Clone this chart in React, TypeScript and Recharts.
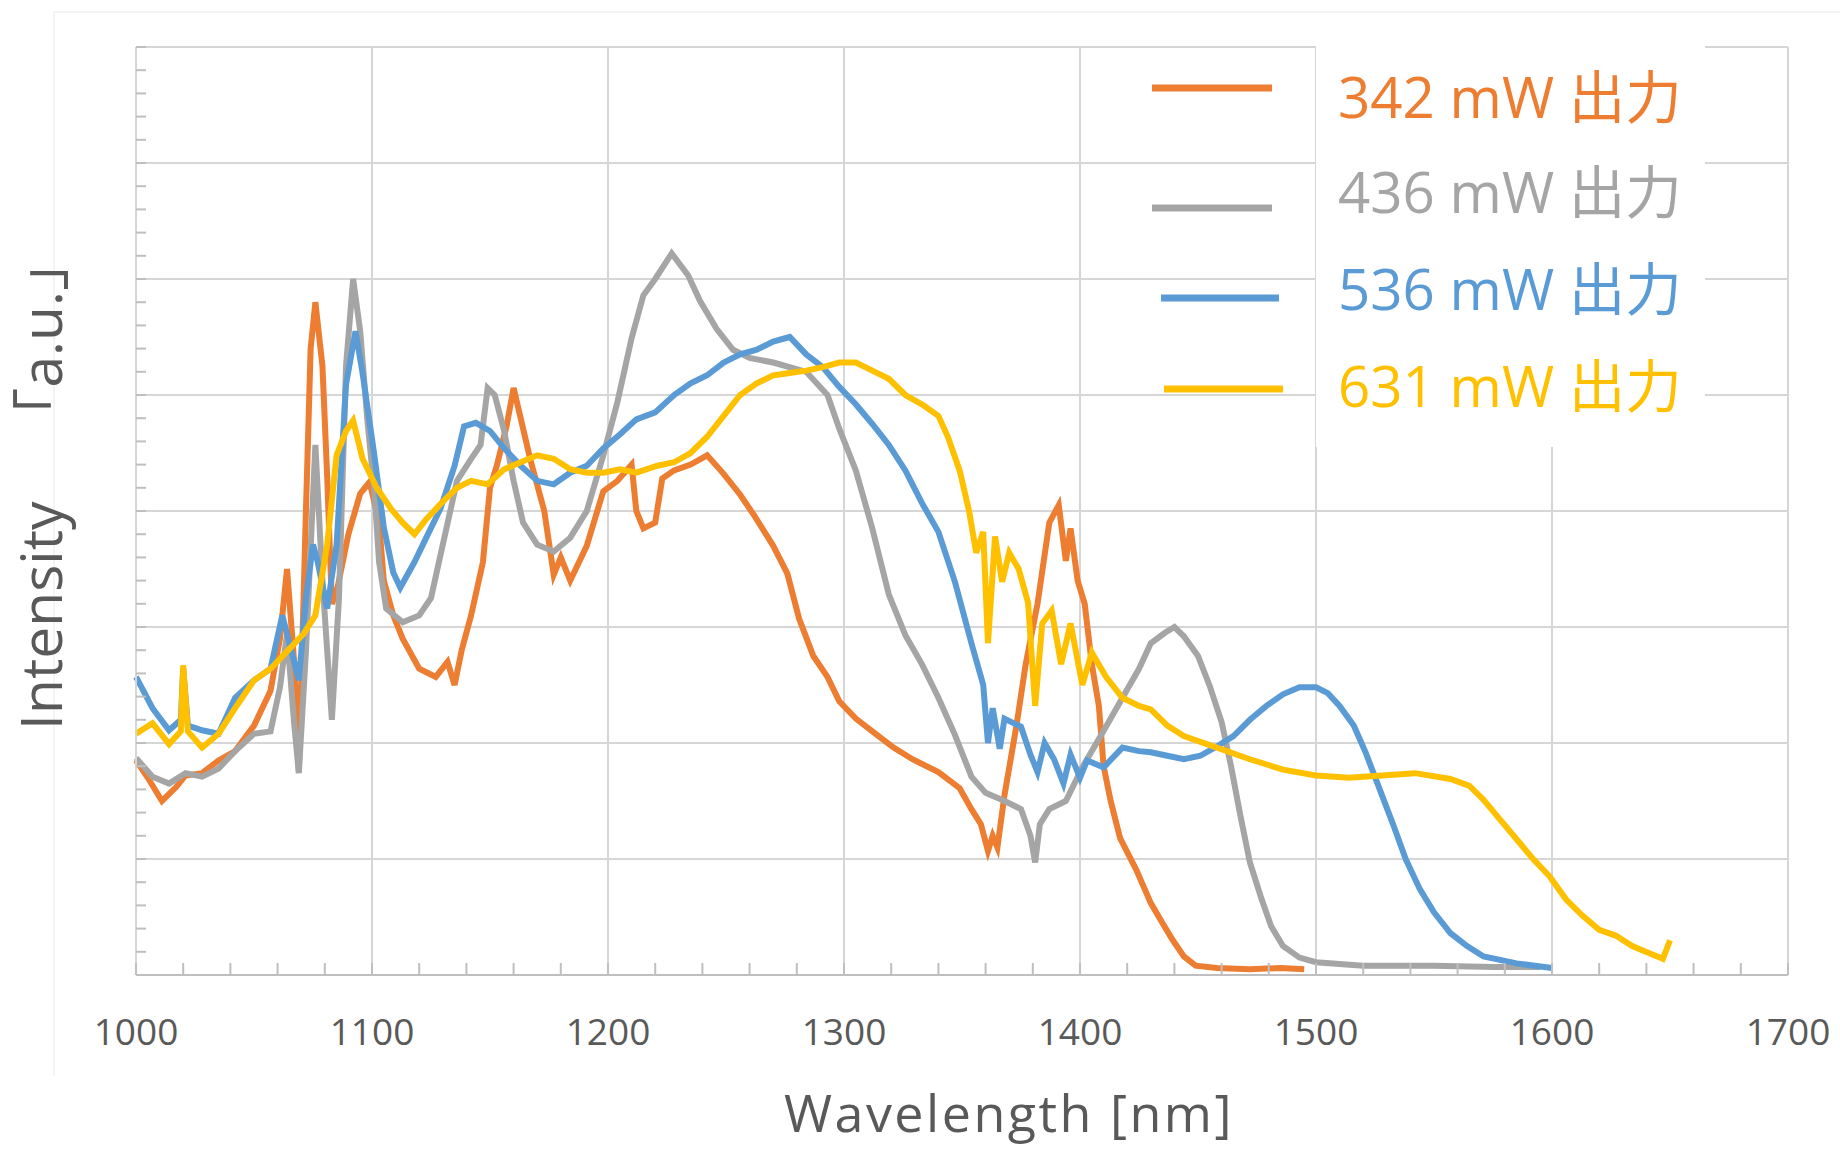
import { LineChart, Line, XAxis, YAxis, CartesianGrid, Legend } from 'recharts';

// wavelength [nm] / intensity [a.u.]
const wl342 = [1000, 1005, 1011, 1017, 1021, 1028, 1035, 1042, 1050, 1057, 1061, 1064, 1067, 1069, 1072, 1074, 1076, 1079, 1081, 1083, 1085, 1090, 1095, 1099, 1103, 1105, 1109, 1113, 1120, 1127, 1132, 1135, 1138, 1142, 1147, 1150, 1153, 1157, 1160, 1163, 1167, 1173, 1177, 1180, 1184, 1191, 1198, 1204, 1210, 1212, 1215, 1220, 1223, 1228, 1235, 1242, 1249, 1256, 1262, 1270, 1276, 1281, 1287, 1293, 1298, 1305, 1312, 1321, 1329, 1340, 1349, 1354, 1358, 1361, 1363, 1365, 1368, 1373, 1377, 1382, 1387, 1391, 1394, 1396, 1399, 1402, 1405, 1408, 1410, 1413, 1417, 1424, 1430, 1434, 1439, 1444, 1449, 1458, 1472, 1485, 1495];
const int342 = [1.85, 1.7, 1.5, 1.62, 1.72, 1.74, 1.85, 1.93, 2.15, 2.45, 2.9, 3.5, 2.7, 1.75, 4.0, 5.4, 5.8, 5.25, 4.3, 3.2, 3.3, 3.8, 4.15, 4.25, 3.9, 3.4, 3.1, 2.9, 2.64, 2.57, 2.7, 2.5, 2.8, 3.1, 3.56, 4.2, 4.4, 4.73, 5.06, 4.8, 4.45, 4.0, 3.45, 3.6, 3.4, 3.7, 4.17, 4.26, 4.4, 4.0, 3.85, 3.9, 4.28, 4.35, 4.4, 4.48, 4.32, 4.14, 3.96, 3.7, 3.46, 3.07, 2.75, 2.57, 2.36, 2.21, 2.1, 1.96, 1.86, 1.75, 1.61, 1.43, 1.3, 1.07, 1.2, 1.1, 1.55, 2.14, 2.68, 3.2, 3.9, 4.05, 3.57, 3.85, 3.4, 3.2, 2.68, 2.32, 1.8, 1.5, 1.18, 0.9, 0.62, 0.48, 0.31, 0.16, 0.08, 0.06, 0.05, 0.06, 0.05];

const wl436 = [1000, 1007, 1014, 1021, 1028, 1035, 1042, 1050, 1057, 1061, 1064, 1067, 1069, 1072, 1076, 1079, 1083, 1086, 1089, 1092, 1095, 1098, 1101, 1103, 1106, 1113, 1120, 1125, 1130, 1136, 1142, 1146, 1149, 1152, 1156, 1160, 1164, 1170, 1177, 1184, 1191, 1198, 1204, 1210, 1215, 1220, 1227, 1234, 1239, 1246, 1253, 1260, 1270, 1284, 1293, 1298, 1305, 1312, 1319, 1326, 1333, 1340, 1347, 1354, 1360, 1368, 1375, 1379, 1381, 1383, 1387, 1394, 1401, 1411, 1418, 1425, 1430, 1436, 1440, 1444, 1450, 1455, 1460, 1464, 1468, 1472, 1477, 1481, 1486, 1493, 1500, 1520, 1550, 1575, 1595];
const int436 = [1.87, 1.71, 1.65, 1.74, 1.71, 1.78, 1.93, 2.08, 2.1, 2.48, 2.94, 2.17, 1.74, 2.79, 4.57, 3.4, 2.2, 3.25, 5.25, 6.0, 5.55, 4.79, 4.17, 3.56, 3.16, 3.04, 3.1, 3.25, 3.71, 4.26, 4.45, 4.57, 5.06, 5.0, 4.69, 4.26, 3.9, 3.71, 3.65, 3.77, 4.0, 4.48, 4.94, 5.49, 5.86, 6.0, 6.22, 6.03, 5.81, 5.57, 5.39, 5.32, 5.28, 5.2, 5.0, 4.71, 4.35, 3.85, 3.28, 2.93, 2.68, 2.39, 2.07, 1.71, 1.57, 1.5, 1.43, 1.2, 0.97, 1.3, 1.43, 1.5, 1.79, 2.14, 2.39, 2.64, 2.86, 2.95, 3.0, 2.92, 2.75, 2.49, 2.18, 1.8, 1.37, 0.97, 0.65, 0.42, 0.25, 0.15, 0.11, 0.08, 0.08, 0.07, 0.07];

const wl536 = [1000, 1007, 1014, 1019, 1020, 1022, 1028, 1035, 1042, 1050, 1057, 1062, 1067, 1069, 1072, 1075, 1077, 1081, 1085, 1089, 1093, 1096, 1101, 1105, 1109, 1112, 1118, 1123, 1129, 1135, 1139, 1144, 1150, 1156, 1163, 1170, 1177, 1184, 1191, 1198, 1205, 1212, 1220, 1228, 1235, 1242, 1249, 1256, 1263, 1270, 1277, 1284, 1291, 1298, 1305, 1312, 1319, 1326, 1333, 1340, 1347, 1354, 1359, 1361, 1363, 1366, 1368, 1375, 1379, 1382, 1385, 1389, 1393, 1396, 1400, 1403, 1410, 1418, 1425, 1430, 1437, 1444, 1451, 1458, 1465, 1472, 1479, 1486, 1493, 1500, 1505, 1510, 1516, 1521, 1527, 1533, 1538, 1544, 1550, 1557, 1564, 1571, 1585, 1600];
const int536 = [2.57, 2.3, 2.11, 2.2, 2.64, 2.15, 2.11, 2.08, 2.39, 2.54, 2.64, 3.1, 2.7, 2.54, 3.25, 3.71, 3.56, 3.16, 3.71, 5.09, 5.55, 5.19, 4.48, 3.86, 3.47, 3.34, 3.56, 3.77, 4.02, 4.39, 4.73, 4.76, 4.69, 4.54, 4.39, 4.26, 4.23, 4.33, 4.39, 4.54, 4.66, 4.79, 4.85, 5.0, 5.1, 5.17, 5.28, 5.35, 5.39, 5.46, 5.5, 5.35, 5.24, 5.07, 4.92, 4.75, 4.57, 4.35, 4.07, 3.82, 3.39, 2.86, 2.5, 2.0, 2.3, 1.95, 2.21, 2.14, 1.9, 1.75, 2.0, 1.86, 1.65, 1.9, 1.7, 1.85, 1.79, 1.96, 1.93, 1.92, 1.89, 1.86, 1.89, 1.97, 2.06, 2.2, 2.32, 2.42, 2.48, 2.48, 2.43, 2.32, 2.15, 1.92, 1.6, 1.28, 1.0, 0.74, 0.54, 0.36, 0.25, 0.16, 0.1, 0.06];

const wl631 = [1000, 1007, 1014, 1019, 1020, 1022, 1028, 1035, 1042, 1050, 1057, 1064, 1071, 1076, 1081, 1085, 1089, 1092, 1096, 1102, 1108, 1113, 1118, 1123, 1130, 1136, 1142, 1149, 1156, 1163, 1170, 1177, 1184, 1191, 1198, 1205, 1212, 1221, 1228, 1235, 1242, 1249, 1256, 1263, 1270, 1277, 1284, 1291, 1298, 1305, 1312, 1319, 1326, 1333, 1340, 1344, 1349, 1353, 1356, 1359, 1361, 1364, 1367, 1370, 1374, 1378, 1381, 1384, 1388, 1392, 1396, 1401, 1405, 1411, 1418, 1425, 1430, 1437, 1444, 1458, 1472, 1486, 1500, 1514, 1528, 1542, 1557, 1565, 1571, 1578, 1585, 1592, 1599, 1606, 1613, 1620, 1627, 1634, 1641, 1647, 1650];
const int631 = [2.08, 2.17, 1.99, 2.1, 2.67, 2.1, 1.96, 2.08, 2.3, 2.54, 2.64, 2.79, 2.94, 3.1, 3.71, 4.48, 4.69, 4.78, 4.45, 4.2, 4.02, 3.9, 3.8, 3.93, 4.08, 4.2, 4.26, 4.23, 4.36, 4.42, 4.48, 4.45, 4.36, 4.33, 4.33, 4.36, 4.33, 4.39, 4.42, 4.5, 4.64, 4.82, 5.0, 5.1, 5.17, 5.19, 5.21, 5.24, 5.28, 5.28, 5.21, 5.14, 5.0, 4.92, 4.82, 4.64, 4.35, 4.0, 3.64, 3.82, 2.86, 3.78, 3.39, 3.64, 3.5, 3.21, 2.32, 3.03, 3.14, 2.68, 3.03, 2.5, 2.78, 2.57, 2.39, 2.32, 2.29, 2.15, 2.06, 1.96, 1.86, 1.77, 1.72, 1.7, 1.72, 1.74, 1.69, 1.63, 1.51, 1.34, 1.17, 1.0, 0.85, 0.65, 0.51, 0.39, 0.34, 0.25, 0.19, 0.14, 0.3];

const seriesNames = ['342 mW 出力', '436 mW 出力', '536 mW 出力', '631 mW 出力'];
const seriesColors = ['#ED7D31', '#A5A5A5', '#5B9BD5', '#FFC000'];

const xTicks = [1000, 1020, 1040, 1060, 1080, 1100, 1120, 1140, 1160, 1180, 1200, 1220, 1240, 1260, 1280, 1300, 1320, 1340, 1360, 1380, 1400, 1420, 1440, 1460, 1480, 1500, 1520, 1540, 1560, 1580, 1600, 1620, 1640, 1660, 1680, 1700];
const xGrid = [1000, 1100, 1200, 1300, 1400, 1500, 1600, 1700];
const yTicks = [0, 0.2, 0.4, 0.6, 0.8, 1, 1.2, 1.4, 1.6, 1.8, 2, 2.2, 2.4, 2.6, 2.8, 3, 3.2, 3.4, 3.6, 3.8, 4, 4.2, 4.4, 4.6, 4.8, 5, 5.2, 5.4, 5.6, 5.8, 6, 6.2, 6.4, 6.6, 6.8, 7, 7.2, 7.4, 7.6, 7.8, 8];
const yGrid = [0, 1, 2, 3, 4, 5, 6, 7, 8];

const toPoints = (wl: number[], v: number[]) =>
  wl.slice(0, Math.min(wl.length, v.length)).map((w, i) => ({ wl: w, v: v[i] }));

const seriesData = [toPoints(wl342, int342), toPoints(wl436, int436), toPoints(wl536, int536), toPoints(wl631, int631)];

const FONT = "'Open Sans', 'Noto Sans CJK JP', sans-serif";
const TEXT = '#595959';

function XTick(props: any) {
  const { x, y, payload } = props;
  const major = payload.value % 100 === 0;
  return (
    <g>
      <line x1={x} x2={x} y1={y} y2={y - 12} stroke='#bfbfbf' strokeWidth={2} />
      {major && (
        <text x={x} y={y + 70} textAnchor='middle' fill={TEXT} fontSize={37} fontFamily={FONT}>
          {payload.value}
        </text>
      )}
    </g>
  );
}

function YTick(props: any) {
  const { x, y } = props;
  return <line x1={x} x2={x + 10} y1={y} y2={y} stroke='#bfbfbf' strokeWidth={2} />;
}

// legend sits over the upper right of the plot
const legendRows = [
  { x1: 1152, x2: 1272, ly: 88, ty: 118 },
  { x1: 1152, x2: 1272, ly: 208, ty: 213 },
  { x1: 1161, x2: 1279, ly: 298, ty: 310 },
  { x1: 1164, x2: 1283, ly: 389, ty: 407 },
];

function LegendBox() {
  return (
    <svg width={1840} height={1149} style={{ position: 'absolute', left: 0, top: 0, pointerEvents: 'none' }}>
      <rect x={1316} y={40} width={389} height={407} fill='#fff' />
      {seriesNames.map((name, i) => (
        <g key={name}>
          <line x1={legendRows[i].x1} x2={legendRows[i].x2} y1={legendRows[i].ly} y2={legendRows[i].ly} stroke={seriesColors[i]} strokeWidth={7} />
          <text x={1338} y={legendRows[i].ty} fill={seriesColors[i]} fontSize={56.5} fontFamily={FONT}>
            {name}
          </text>
        </g>
      ))}
    </svg>
  );
}

export default function App() {
  return (
    <div style={{ position: 'absolute', left: 0, top: 0, width: 1840, height: 1149, background: '#fff' }}>
      <div style={{ position: 'absolute', left: 53, top: 11, width: 1787, height: 1063, borderTop: '2px solid #f4f4f4', borderLeft: '2px solid #f4f4f4' }} />
      <LineChart width={1840} height={1149} margin={{ top: 47, right: 52, left: 135, bottom: 173 }}>
        <CartesianGrid stroke='#d6d6d6' strokeWidth={2} horizontalValues={yGrid} verticalValues={xGrid} />
        <XAxis
          dataKey='wl'
          type='number'
          domain={[1000, 1700]}
          ticks={xTicks}
          interval={0}
          height={1}
          tickSize={0}
          tickMargin={0}
          tickLine={false}
          tick={(p: any) => <XTick {...p} />}
          axisLine={{ stroke: '#bfbfbf', strokeWidth: 2 }}
          label={{
            content: ({ viewBox }: any) => (
              <text x={viewBox.x + viewBox.width / 2 + 47} y={viewBox.y + 157} textAnchor='middle' fill={TEXT} fontSize={52} letterSpacing={2.5} fontFamily={FONT}>
                Wavelength [nm]
              </text>
            ),
          }}
        />
        <YAxis
          type='number'
          domain={[0, 8]}
          ticks={yTicks}
          interval={0}
          width={1}
          tickSize={0}
          tickMargin={0}
          tickLine={false}
          tick={(p: any) => <YTick {...p} />}
          axisLine={{ stroke: '#d6d6d6', strokeWidth: 2 }}
          label={{
            content: ({ viewBox }: any) => {
              const tx = viewBox.x - 73;
              const ty = viewBox.y + viewBox.height - 245;
              return (
                <g transform={`translate(${tx}, ${ty}) rotate(-90)`} fill={TEXT} fontSize={57} fontFamily={FONT}>
                  <text x={0} y={0} textAnchor='start'>Intensity</text>
                  <text x={496} y={0} textAnchor='end'>「a.u.」</text>
                </g>
              );
            },
          }}
        />
        <Legend content={LegendBox} wrapperStyle={{ position: 'absolute', left: 0, top: 0, width: 0, height: 0 }} />
        {seriesNames.map((name, i) => (
          <Line
            key={name}
            data={seriesData[i]}
            dataKey='v'
            name={name}
            type='linear'
            stroke={seriesColors[i]}
            strokeWidth={6}
            dot={false}
            activeDot={false}
            isAnimationActive={false}
          />
        ))}
      </LineChart>
    </div>
  );
}
